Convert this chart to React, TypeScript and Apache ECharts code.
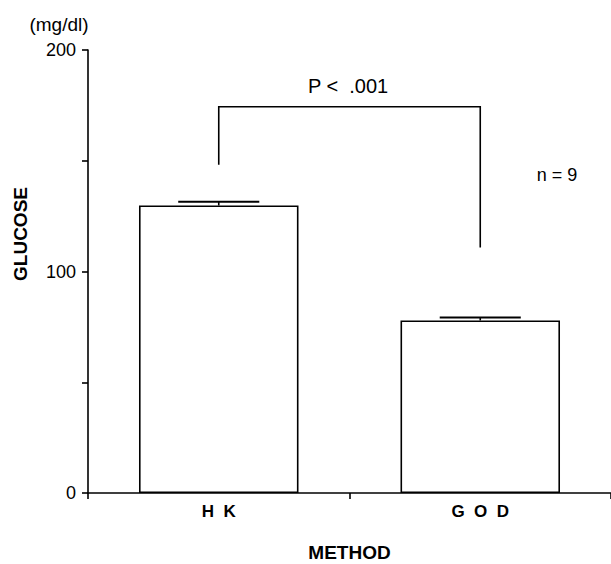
import React, { useEffect, useRef } from "react";
import * as echarts from "echarts";

const categories = ["H K", "G O D"];
const means = [129.8, 77.9];
const errorTops = [131.5, 79.2];
const bracketX = [0, 0, 1, 1];
const bracketY = [148.2, 174.4, 174.4, 110.8];
const yLabelsShown = [0, 100, 200];
const pText = "P <  .001";
const nText = "n = 9";
const unitText = "(mg/dl)";
const yTitle = "GLUCOSE";
const xTitle = "METHOD";

const FONT = "'Liberation Sans', Arial, Helvetica, sans-serif";

export default function App() {
  const ref = useRef<HTMLDivElement>(null);
  useEffect(() => {
    if (!ref.current) return;
    const chart = echarts.init(ref.current, null, { renderer: "svg" });
    chart.setOption({
      animation: false,
      backgroundColor: "#ffffff",
      textStyle: { fontFamily: FONT, color: "#000" },
      grid: { left: 88, right: 0, top: 50, bottom: 71, outerBoundsMode: "none", containLabel: false },
      xAxis: {
        type: "category",
        data: categories,
        boundaryGap: true,
        axisLine: { lineStyle: { color: "#000", width: 1.6 } },
        axisTick: { show: true, length: 6, lineStyle: { color: "#000", width: 1.6 } },
        axisLabel: {
          color: "#000",
          fontWeight: "bold",
          fontSize: 17,
          margin: 10,
          fontFamily: FONT,
          formatter: (v: string) => v.split(" ").join("  "),
        },
        name: xTitle,
        nameLocation: "middle",
        nameGap: 50,
        nameTextStyle: { color: "#000", fontWeight: "bold", fontSize: 19, fontFamily: FONT },
      },
      yAxis: {
        type: "value",
        min: 0,
        max: 200,
        interval: 50,
        splitLine: { show: false },
        axisLine: { show: true, lineStyle: { color: "#000", width: 1.6 } },
        axisTick: { show: true, length: 6, lineStyle: { color: "#000", width: 1.6 } },
        axisLabel: {
          color: "#000",
          fontSize: 18,
          margin: 12,
          fontFamily: FONT,
          formatter: (v: number) => (yLabelsShown.includes(v) ? String(v) : ""),
        },
      },
      graphic: [
        {
          type: "text",
          x: 59,
          y: 24,
          style: { text: unitText, font: `19px ${FONT}`, fill: "#000", align: "center", verticalAlign: "middle" },
        },
        {
          type: "text",
          x: 20,
          y: 234,
          rotation: Math.PI / 2,
          style: { text: yTitle, font: `bold 19px ${FONT}`, fill: "#000", align: "center", verticalAlign: "middle" },
        },
        {
          type: "text",
          x: 348,
          y: 86,
          style: { text: pText, font: `20px ${FONT}`, fill: "#000", align: "center", verticalAlign: "middle" },
        },
        {
          type: "text",
          x: 557,
          y: 175,
          style: { text: nText, font: `18px ${FONT}`, fill: "#000", align: "center", verticalAlign: "middle" },
        },
      ],
      series: [
        {
          type: "bar",
          data: means,
          barWidth: "61%",
          itemStyle: { color: "#ffffff", borderColor: "#000", borderWidth: 1.6 },
          z: 2,
        },
        {
          type: "custom",
          data: categories.map((_, i) => [i, errorTops[i], means[i]]),
          z: 3,
          renderItem: (params: any, api: any) => {
            const x = api.value(0);
            const top = api.coord([x, api.value(1)]);
            const base = api.coord([x, api.value(2)]);
            const bw = api.size([1, 0])[0];
            const half = bw * 0.155;
            return {
              type: "group",
              children: [
                {
                  type: "line",
                  shape: { x1: top[0], y1: base[1], x2: top[0], y2: top[1] },
                  style: { stroke: "#000", lineWidth: 1.6 },
                },
                {
                  type: "line",
                  shape: { x1: top[0] - half, y1: top[1], x2: top[0] + half, y2: top[1] },
                  style: { stroke: "#000", lineWidth: 2 },
                },
              ],
            };
          },
        },
        {
          type: "custom",
          data: [[0, 0]],
          z: 3,
          renderItem: (params: any, api: any) => {
            const pts = bracketX.map((bx, i) => api.coord([bx, bracketY[i]]));
            return {
              type: "polyline",
              shape: { points: pts },
              style: { stroke: "#000", lineWidth: 1.6, fill: "none" },
            };
          },
        },
      ],
    });
    return () => chart.dispose();
  }, []);
  return (
    <div
      ref={ref}
      style={{ position: "fixed", left: 0, top: 0, width: 611, height: 564, background: "#fff" }}
    />
  );
}
